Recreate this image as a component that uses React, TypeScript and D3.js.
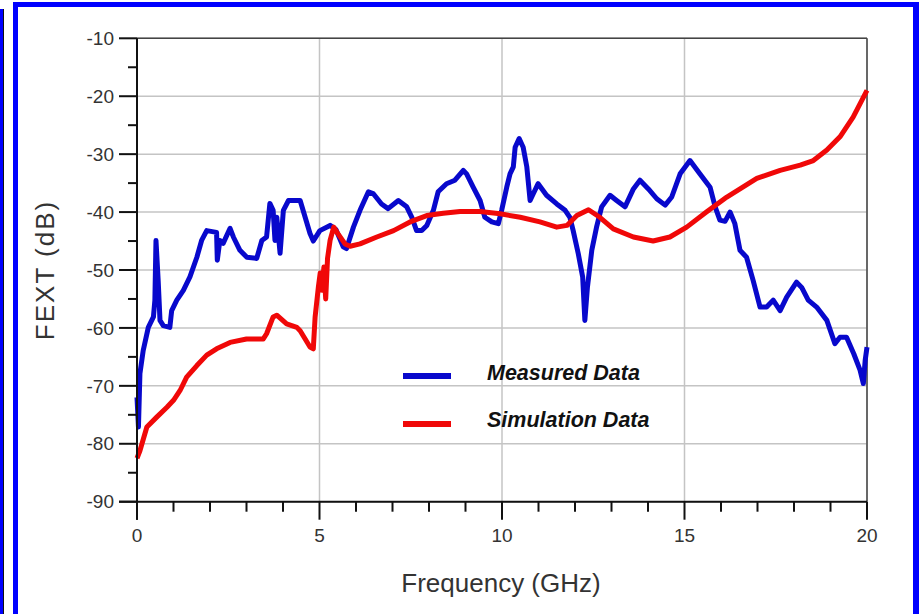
import React from "react";
import * as d3 from "d3";

const W = 919;
const H = 614;

const xTicks = [0, 5, 10, 15, 20];
const yTicks = [-10, -20, -30, -40, -50, -60, -70, -80, -90];

const measuredFreq = [
  0.0, 0.04, 0.08, 0.17, 0.31, 0.45, 0.49, 0.52, 0.58, 0.63, 0.72, 0.9, 0.95, 1.09, 1.27, 1.45, 1.64, 1.77, 1.91,
  2.18, 2.2, 2.27, 2.36, 2.55, 2.64, 2.82, 3.01, 3.28, 3.42, 3.55, 3.64, 3.73, 3.78, 3.83, 3.92, 4.01, 4.15, 4.47,
  4.74, 4.83, 5.01, 5.29, 5.45, 5.65, 5.74, 5.93, 6.11, 6.34, 6.47, 6.7, 6.88, 7.16, 7.39, 7.53, 7.66, 7.8, 7.94,
  8.12, 8.25, 8.48, 8.71, 8.94, 9.03, 9.21, 9.4, 9.53, 9.72, 9.9, 9.99, 10.13, 10.22, 10.31, 10.36, 10.47, 10.58,
  10.68, 10.77, 10.86, 10.99, 11.22, 11.5, 11.73, 11.86, 11.95, 12.09, 12.21, 12.27, 12.34, 12.46, 12.59, 12.73,
  12.96, 13.14, 13.37, 13.6, 13.78, 14.01, 14.24, 14.47, 14.65, 14.88, 15.15, 15.42, 15.7, 15.84, 15.97, 16.11,
  16.25, 16.38, 16.52, 16.7, 16.88, 17.07, 17.25, 17.43, 17.62, 17.8, 18.07, 18.21, 18.39, 18.62, 18.9, 19.12,
  19.26, 19.44, 19.64, 19.81, 19.9, 19.95, 20.0,
];
const measuredDb = [
  -72, -77.1, -67.9, -63.9, -59.9, -58.1, -55.2, -44.9, -51.8, -58.7, -59.6, -59.9, -57, -55.2, -53.5, -51.2, -47.8,
  -44.9, -43.2, -43.5, -48.3, -44.9, -45.4, -42.8, -44.3, -46.6, -47.8, -48.0, -44.9, -44.3, -38.5, -39.7, -44.9,
  -40.9, -47.1, -39.7, -38, -38, -43.7, -45, -43.2, -42.3, -43, -46, -46.3, -42.6, -39.7, -36.5, -36.8, -38.6,
  -39.4, -38, -39.1, -40.9, -43.2, -43.2, -42.3, -39.7, -36.5, -35.1, -34.5, -32.8, -33.4, -35.7, -38, -40.9, -41.7,
  -42, -39.7, -35.7, -33.4, -32.2, -28.8, -27.3, -28.8, -32.2, -38, -36.8, -35.1, -37.1, -38.6, -39.7, -40.9, -43.2,
  -47.2, -51.2, -58.7, -53, -46.6, -42.6, -39.1, -37.1, -38, -39.1, -36, -34.5, -36, -37.7, -38.8, -37.4, -33.4,
  -31.1, -33.4, -35.7, -39.1, -41.4, -41.6, -40, -42, -46.6, -47.8, -51.8, -56.4, -56.4, -55.2, -57, -54.7, -52.1,
  -53, -55.2, -56.4, -58.7, -62.7, -61.6, -61.6, -64.5, -67.3, -69.6, -65.6, -63.3,
];

const simFreq = [
  0.0, 0.08, 0.27, 0.54, 0.82, 1.0, 1.18, 1.36, 1.64, 1.91, 2.18, 2.55, 3.0, 3.46, 3.55, 3.73, 3.83, 4.1, 4.38, 4.47,
  4.74, 4.83, 4.88, 4.97, 5.02, 5.07, 5.12, 5.17, 5.22, 5.29, 5.39, 5.48, 5.7, 5.84, 6.11, 6.57, 7.03, 7.48, 7.94,
  8.39, 8.85, 9.4, 9.95, 10.5, 11.04, 11.5, 11.78, 12.05, 12.37, 12.68, 13.05, 13.6, 14.14, 14.6, 15.06, 15.6,
  16.16, 16.98, 17.62, 18.17, 18.53, 18.9, 19.26, 19.62, 19.95, 20.0,
];
const simDb = [
  -82.5, -81.2, -77.1, -75.4, -73.7, -72.5, -70.8, -68.5, -66.5, -64.7, -63.6, -62.5, -61.9, -61.9, -61, -58.1,
  -57.8, -59.3, -59.9, -60.5, -63.3, -63.6, -58.1, -52.9, -50.5, -53.5, -49.5, -55, -48, -44.9, -42.6, -43.5, -45.5,
  -45.9, -45.5, -44.3, -43.2, -41.7, -40.6, -40.2, -39.9, -39.9, -40.3, -40.9, -41.7, -42.6, -42.3, -40.6, -39.6,
  -40.9, -42.9, -44.3, -45, -44.3, -42.6, -40, -37.4, -34.2, -32.8, -31.9, -31.1, -29.3, -27, -23.6, -19.6, -19,
];

const legendLabels = ["Measured Data", "Simulation Data"];
const seriesColors = ["#0808cc", "#f00808"];

export default function App() {
  const left = 137;
  const right = 867;
  const top = 38.3;
  const bottom = 501.7;
  const x = d3.scaleLinear().domain([0, 20]).range([left, right]);
  const y = d3.scaleLinear().domain([-90, -10]).range([bottom, top]);

  const line = d3
    .line<[number, number]>()
    .x((d) => x(d[0]))
    .y((d) => y(d[1]))
    .curve(d3.curveLinear);

  const measured = measuredFreq.map((f, i) => [f, measuredDb[i]] as [number, number]);
  const sim = simFreq.map((f, i) => [f, simDb[i]] as [number, number]);

  const xMinor = d3.range(0, 21, 1);
  const yMinor = d3.range(-90, -9, 5);
  const font = "Arial, 'Liberation Sans', Helvetica, sans-serif";
  const tickColor = "#333";

  return (
    <svg
      width={W}
      height={H}
      style={{ position: "absolute", left: 0, top: 0, background: "#fff" }}
      fontFamily={font}
    >
      {/* frames */}
      <rect x={0} y={9} width={3} height={H - 9} fill="#0000ff" />
      <rect x={3} y={9} width={1} height={H - 9} fill="#111" />
      <rect x={13} y={2} width={5} height={H - 2} fill="#0000ff" />
      <rect x={13} y={2} width={W - 13} height={5} fill="#0000ff" />
      <rect x={913} y={2} width={6} height={H - 2} fill="#0000ff" />

      {/* grid */}
      {yTicks.map((t) => (
        <line key={"gy" + t} x1={left} x2={right} y1={y(t)} y2={y(t)} stroke="#c4c4c4" strokeWidth={1.5} />
      ))}
      {xTicks.map((t) => (
        <line key={"gx" + t} x1={x(t)} x2={x(t)} y1={top} y2={bottom} stroke="#c4c4c4" strokeWidth={1.5} />
      ))}
      {/* plot border */}
      <line x1={left} x2={right} y1={top} y2={top} stroke="#444" strokeWidth={1.5} />
      <line x1={right} x2={right} y1={top} y2={bottom} stroke="#444" strokeWidth={1.5} />

      {/* series */}
      <path d={line(measured) || ""} fill="none" stroke={seriesColors[0]} strokeWidth={5} strokeLinejoin="round" />
      <path d={line(sim) || ""} fill="none" stroke={seriesColors[1]} strokeWidth={5} strokeLinejoin="round" />

      {/* axes */}
      <line x1={left} x2={left} y1={top} y2={bottom + 18} stroke="#111" strokeWidth={2} />
      <line x1={left - 18} x2={right} y1={bottom} y2={bottom} stroke="#111" strokeWidth={2} />
      {yMinor.map((t) => (
        <line
          key={"ym" + t}
          x1={left - (t % 10 === 0 ? 18 : 9)}
          x2={left}
          y1={y(t)}
          y2={y(t)}
          stroke="#111"
          strokeWidth={2}
        />
      ))}
      {xMinor.map((t) => (
        <line
          key={"xm" + t}
          x1={x(t)}
          x2={x(t)}
          y1={bottom}
          y2={bottom + (t % 5 === 0 ? 18 : 10)}
          stroke="#111"
          strokeWidth={2}
        />
      ))}
      {yTicks.map((t) => (
        <text key={"yl" + t} x={left - 23} y={y(t)} dy="0.35em" textAnchor="end" fontSize={19} fill={tickColor}>
          {t}
        </text>
      ))}
      {xTicks.map((t) => (
        <text key={"xl" + t} x={x(t)} y={542} textAnchor="middle" fontSize={19} fill={tickColor}>
          {t}
        </text>
      ))}

      {/* axis titles */}
      <text x={501} y={592} textAnchor="middle" fontSize={26} fill="#333">
        Frequency (GHz)
      </text>
      <text
        transform={`translate(54, 270) rotate(-90)`}
        textAnchor="middle"
        fontSize={26}
        fill="#333"
        letterSpacing={2}
      >
        FEXT (dB)
      </text>

      {/* legend */}
      {legendLabels.map((lab, i) => (
        <g key={lab}>
          <rect x={403} y={373 + i * 48} width={48} height={6} fill={seriesColors[i]} />
          <text x={487} y={380 + i * 47} fontSize={21.5} fontWeight="bold" fontStyle="italic" fill="#111">
            {lab}
          </text>
        </g>
      ))}
    </svg>
  );
}
